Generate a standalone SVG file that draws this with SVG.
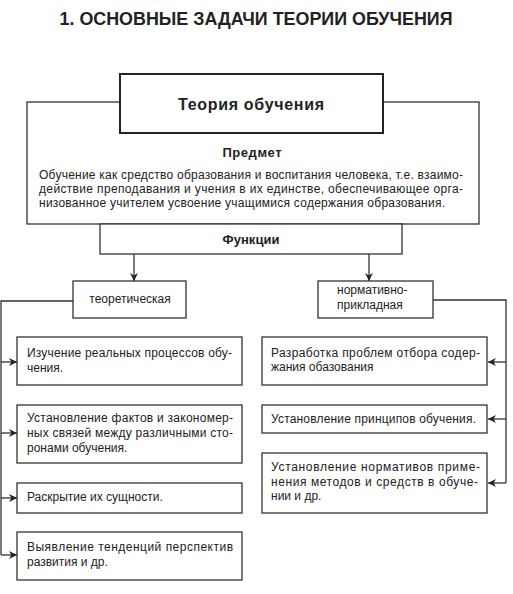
<svg xmlns="http://www.w3.org/2000/svg" width="513" height="594" viewBox="0 0 513 594">
<style>
.box{fill:#fff;stroke:#333;stroke-width:1.3}
.thick{fill:#fff;stroke:#222;stroke-width:2}
.ln{fill:none;stroke:#333;stroke-width:1.3}
.t{font-family:"Liberation Sans",Arial,sans-serif;font-size:12px;fill:#222}
.b{font-family:"Liberation Sans",Arial,sans-serif;font-weight:bold;fill:#222}
</style>
<defs>
<marker id="ah" viewBox="0 0 10 10" refX="10" refY="5" markerWidth="8" markerHeight="8" markerUnits="userSpaceOnUse" orient="auto">
<path d="M0,0 L10,5 L0,10 L3,5 z" fill="#222"/>
</marker>
</defs>
<rect width="513" height="594" fill="#fff"/>
<text class="b" x="256" y="25" font-size="18" text-anchor="middle" textLength="393" lengthAdjust="spacingAndGlyphs">1. ОСНОВНЫЕ ЗАДАЧИ ТЕОРИИ ОБУЧЕНИЯ</text>

<g id="connectors">
<line class="ln" x1="134" y1="254" x2="134" y2="281" marker-end="url(#ah)"/>
<line class="ln" x1="369" y1="254" x2="369" y2="281" marker-end="url(#ah)"/>
<polyline class="ln" points="73,301 1,301 1,555"/>
<line class="ln" x1="1" y1="362" x2="17" y2="362" marker-end="url(#ah)"/>
<line class="ln" x1="1" y1="433" x2="17" y2="433" marker-end="url(#ah)"/>
<line class="ln" x1="1" y1="498" x2="17" y2="498" marker-end="url(#ah)"/>
<line class="ln" x1="1" y1="555" x2="17" y2="555" marker-end="url(#ah)"/>
<polyline class="ln" points="433,300 506,300 506,483"/>
<line class="ln" x1="506" y1="362" x2="488" y2="362" marker-end="url(#ah)"/>
<line class="ln" x1="506" y1="419" x2="488" y2="419" marker-end="url(#ah)"/>
<line class="ln" x1="506" y1="483" x2="488" y2="483" marker-end="url(#ah)"/>
</g>

<g id="predmet">
<rect class="box" x="27" y="102" width="452" height="122"/>
<text class="b" x="252" y="157" font-size="13" text-anchor="middle" textLength="59" lengthAdjust="spacing">Предмет</text>
<text class="t" x="39" y="179" textLength="424" lengthAdjust="spacing">Обучение как средство образования и воспитания человека, т.е. взаимо-</text>
<text class="t" x="39" y="193" textLength="424" lengthAdjust="spacing">действие преподавания и учения в их единстве, обеспечивающее орга-</text>
<text class="t" x="39" y="207" textLength="406" lengthAdjust="spacing">низованное учителем усвоение учащимися содержания образования.</text>
</g>

<g id="teoria">
<rect class="thick" x="120" y="74" width="263" height="59"/>
<text class="b" x="251" y="110" font-size="16" text-anchor="middle" textLength="146" lengthAdjust="spacing">Теория обучения</text>
</g>

<g id="funkcii">
<rect class="box" x="100" y="224" width="302" height="30"/>
<text class="b" x="251" y="244" font-size="13" text-anchor="middle" textLength="57" lengthAdjust="spacing">Функции</text>
</g>

<g id="teoreticheskaya">
<rect class="box" x="73" y="281" width="113" height="37"/>
<text class="t" x="130" y="303" text-anchor="middle">теоретическая</text>
</g>

<g id="normativno">
<rect class="box" x="318" y="281" width="115" height="37"/>
<text class="t" x="337" y="294">нормативно-</text>
<text class="t" x="337" y="309">прикладная</text>
</g>

<g id="l1">
<rect class="box" x="17" y="337" width="225" height="48"/>
<text class="t" x="27" y="357" textLength="205" lengthAdjust="spacing">Изучение реальных процессов обу-</text>
<text class="t" x="27" y="372">чения.</text>
</g>
<g id="l2">
<rect class="box" x="17" y="405" width="225" height="58"/>
<text class="t" x="27" y="422" textLength="206" lengthAdjust="spacing">Установление фактов и закономер-</text>
<text class="t" x="27" y="437" textLength="206" lengthAdjust="spacing">ных связей между различными сто-</text>
<text class="t" x="27" y="452">ронами обучения.</text>
</g>
<g id="l3">
<rect class="box" x="17" y="483" width="225" height="30"/>
<text class="t" x="27" y="501">Раскрытие их сущности.</text>
</g>
<g id="l4">
<rect class="box" x="17" y="532" width="225" height="48"/>
<text class="t" x="27" y="551" textLength="206" lengthAdjust="spacing">Выявление тенденций перспектив</text>
<text class="t" x="27" y="566">развития и др.</text>
</g>

<g id="r1">
<rect class="box" x="262" y="337" width="225" height="48"/>
<text class="t" x="271" y="357" textLength="209" lengthAdjust="spacing">Разработка проблем отбора содер-</text>
<text class="t" x="271" y="371">жания обазования</text>
</g>
<g id="r2">
<rect class="box" x="262" y="405" width="225" height="28"/>
<text class="t" x="271" y="423" textLength="205" lengthAdjust="spacing">Установление принципов обучения.</text>
</g>
<g id="r3">
<rect class="box" x="262" y="453" width="225" height="60"/>
<text class="t" x="271" y="471" textLength="209" lengthAdjust="spacing">Установление нормативов приме-</text>
<text class="t" x="271" y="486" textLength="207" lengthAdjust="spacing">нения методов и средств в обуче-</text>
<text class="t" x="271" y="500">нии и др.</text>
</g>
</svg>
